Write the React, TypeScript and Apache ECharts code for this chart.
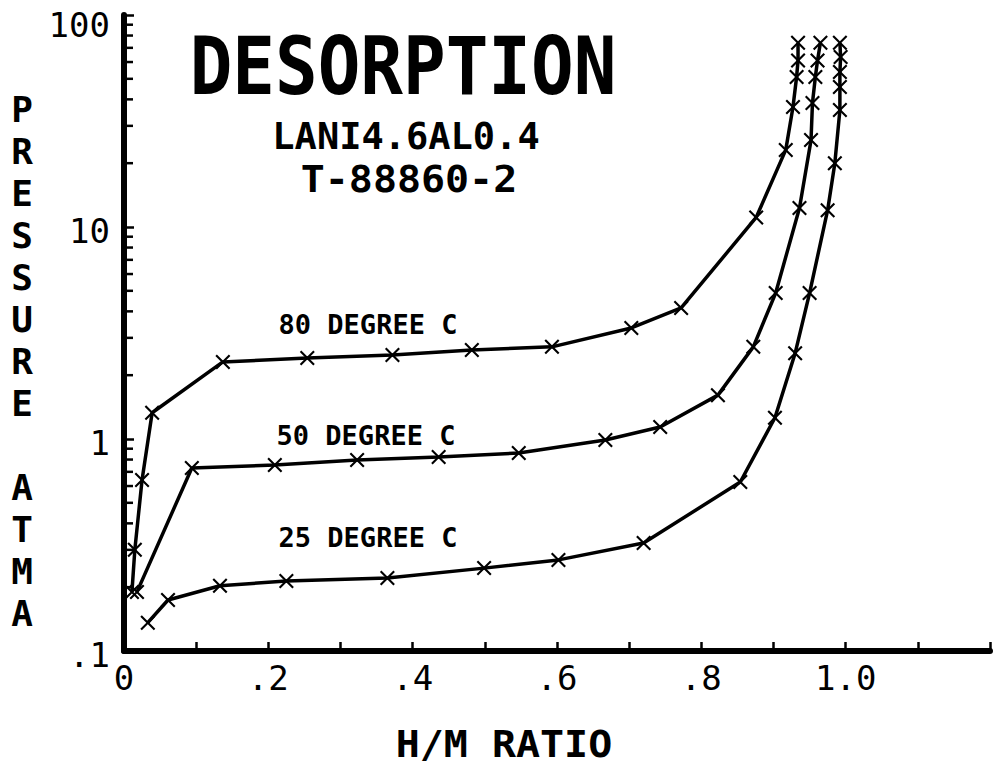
import React, { useEffect, useRef } from 'react';
import * as echarts from 'echarts';

// ---- data (H/M ratio, pressure in atm) ----
const deg80: number[][] = [
  [0.011, 0.19], [0.015, 0.30], [0.025, 0.64], [0.039, 1.33], [0.137, 2.31],
  [0.254, 2.41], [0.372, 2.49], [0.482, 2.63], [0.593, 2.72], [0.703, 3.34],
  [0.772, 4.15], [0.876, 11.1], [0.917, 23.1], [0.927, 36.8], [0.932, 51],
  [0.934, 61], [0.934, 74],
];
const deg50: number[][] = [
  [0.018, 0.19], [0.094, 0.73], [0.209, 0.754], [0.323, 0.796], [0.436, 0.823],
  [0.547, 0.859], [0.667, 0.99], [0.743, 1.14], [0.823, 1.61], [0.872, 2.72],
  [0.903, 4.88], [0.936, 12.3], [0.952, 25.7], [0.954, 38.5], [0.958, 51],
  [0.961, 61], [0.965, 74],
];
const deg25: number[][] = [
  [0.033, 0.136], [0.061, 0.174], [0.133, 0.203], [0.225, 0.214], [0.365, 0.221],
  [0.499, 0.246], [0.602, 0.269], [0.72, 0.323], [0.854, 0.627], [0.902, 1.26],
  [0.93, 2.54], [0.95, 4.88], [0.975, 12.0], [0.985, 20.0], [0.992, 35.6],
  [0.992, 45.8], [0.992, 53.8], [0.993, 63.3], [0.992, 74],
];

const xLabelValues = [0, 0.2, 0.4, 0.6, 0.8, 1.0];
const xLabelTexts = ['0', '.2', '.4', '.6', '.8', '1.0'];
const yLabelValues = [0.1, 1, 10, 100];
const yLabelTexts = ['.1', '1', '10', '100'];
const yMinorTicks = [
  0.2, 0.3, 0.4, 0.5, 0.6, 0.7, 0.8, 0.9,
  2, 3, 4, 5, 6, 7, 8, 9,
  20, 30, 40, 50, 60, 70, 80, 90,
];

const titleText = 'DESORPTION';
const subtitle1 = 'LANI4.6AL0.4';
const subtitle2 = 'T-88860-2';
const curveLabels = ['80 DEGREE C', '50 DEGREE C', '25 DEGREE C'];
const xAxisTitle = 'H/M RATIO';
const yAxisTitle = 'PRESSURE ATMA';

const FONT = '"DejaVu Sans Mono", monospace';
const X_SYMBOL =
  'path://M0,1.6L1.6,0L8,6.4L14.4,0L16,1.6L9.6,8L16,14.4L14.4,16L8,9.6L1.6,16L0,14.4L6.4,8Z';

function txt(text: string, x: number, y: number, size: number, extra: any = {}) {
  return {
    type: 'text',
    x,
    y,
    ...extra,
    style: {
      text,
      x: 0,
      y: 0,
      font: `bold ${size}px ${FONT}`,
      fill: '#000',
      textAlign: 'center',
      textVerticalAlign: 'middle',
      align: 'center',
      verticalAlign: 'middle',
      ...(extra.style || {}),
    },
  };
}

export default function App() {
  const ref = useRef<HTMLDivElement>(null);
  useEffect(() => {
    const chart = echarts.init(ref.current!, null, { renderer: 'svg' });
    const lineSeries = (name: string, data: number[][]) => ({
      name,
      type: 'line',
      data,
      symbol: X_SYMBOL,
      symbolSize: 15,
      showSymbol: true,
      clip: false,
      lineStyle: { color: '#000', width: 3.5 },
      itemStyle: { color: '#000' },
      z: 3,
    });
    chart.setOption({
      animation: false,
      backgroundColor: '#fff',
      grid: { left: 124, right: 0, top: 15, bottom: 114, containLabel: false },
      xAxis: {
        type: 'value',
        min: 0,
        max: 1.2,
        interval: 0.1,
        axisLine: { show: true, onZero: false, lineStyle: { color: '#000', width: 6 } },
        axisTick: { show: true, inside: true, length: 9, lineStyle: { color: '#000', width: 2.5 } },
        splitLine: { show: false },
        axisLabel: {
          color: '#000',
          fontFamily: FONT,
          fontSize: 34,
          margin: 10,
          formatter: (v: number) => {
            const i = xLabelValues.findIndex((t) => Math.abs(t - v) < 1e-6);
            return i < 0 ? '' : xLabelTexts[i];
          },
        },
      },
      yAxis: {
        type: 'log',
        logBase: 10,
        min: 0.1,
        max: 100,
        axisLine: { show: true, lineStyle: { color: '#000', width: 6 } },
        axisTick: { show: true, inside: true, length: 10, lineStyle: { color: '#000', width: 2.5 } },
        splitLine: { show: false },
        axisLabel: {
          color: '#000',
          fontFamily: FONT,
          fontSize: 34,
          margin: 14,
          formatter: (v: number) => {
            const i = yLabelValues.findIndex(
              (t) => Math.abs(Math.log10(t) - Math.log10(v)) < 1e-6
            );
            if (i < 0) return '';
            return i === 3 ? `{top|${yLabelTexts[i]}}` : `{n|${yLabelTexts[i]}}`;
          },
          rich: {
            top: { fontFamily: FONT, fontSize: 34, color: '#000', padding: [20, 0, 0, 0] },
            n: { fontFamily: FONT, fontSize: 34, color: '#000', padding: [8, 0, 0, 0] },
          },
        },
      },
      series: [
        lineSeries('80 DEGREE C', deg80),
        lineSeries('50 DEGREE C', deg50),
        lineSeries('25 DEGREE C', deg25),
        {
          type: 'custom',
          silent: true,
          clip: false,
          data: yMinorTicks.map((v) => [0, v]),
          renderItem: (params: any, api: any) => {
            const p = api.coord([0, api.value(1)]);
            return {
              type: 'line',
              shape: { x1: p[0], y1: p[1], x2: p[0] + 9, y2: p[1] },
              style: { stroke: '#000', lineWidth: 2.5 },
            };
          },
          z: 2,
        },
      ],
      graphic: [
        txt(titleText, 403, 66, 81, { scaleX: 0.875 }),
        txt(subtitle1, 406, 136, 37),
        txt(subtitle2, 409, 179, 37, { scaleX: 1.08 }),
        txt(curveLabels[0], 368, 324, 27),
        txt(curveLabels[1], 366, 435, 27),
        txt(curveLabels[2], 368, 537, 27),
        txt(xAxisTitle, 504, 744, 37, { scaleX: 1.08 }),
        txt(yAxisTitle.split('').join('\n'), 22, 88, 36, {
          style: { verticalAlign: 'top', textVerticalAlign: 'top', lineHeight: 42 },
        }),
      ],
    });
    return () => chart.dispose();
  }, []);
  return (
    <div
      ref={ref}
      style={{ position: 'absolute', left: 0, top: 0, width: 993, height: 765, background: '#fff' }}
    />
  );
}
